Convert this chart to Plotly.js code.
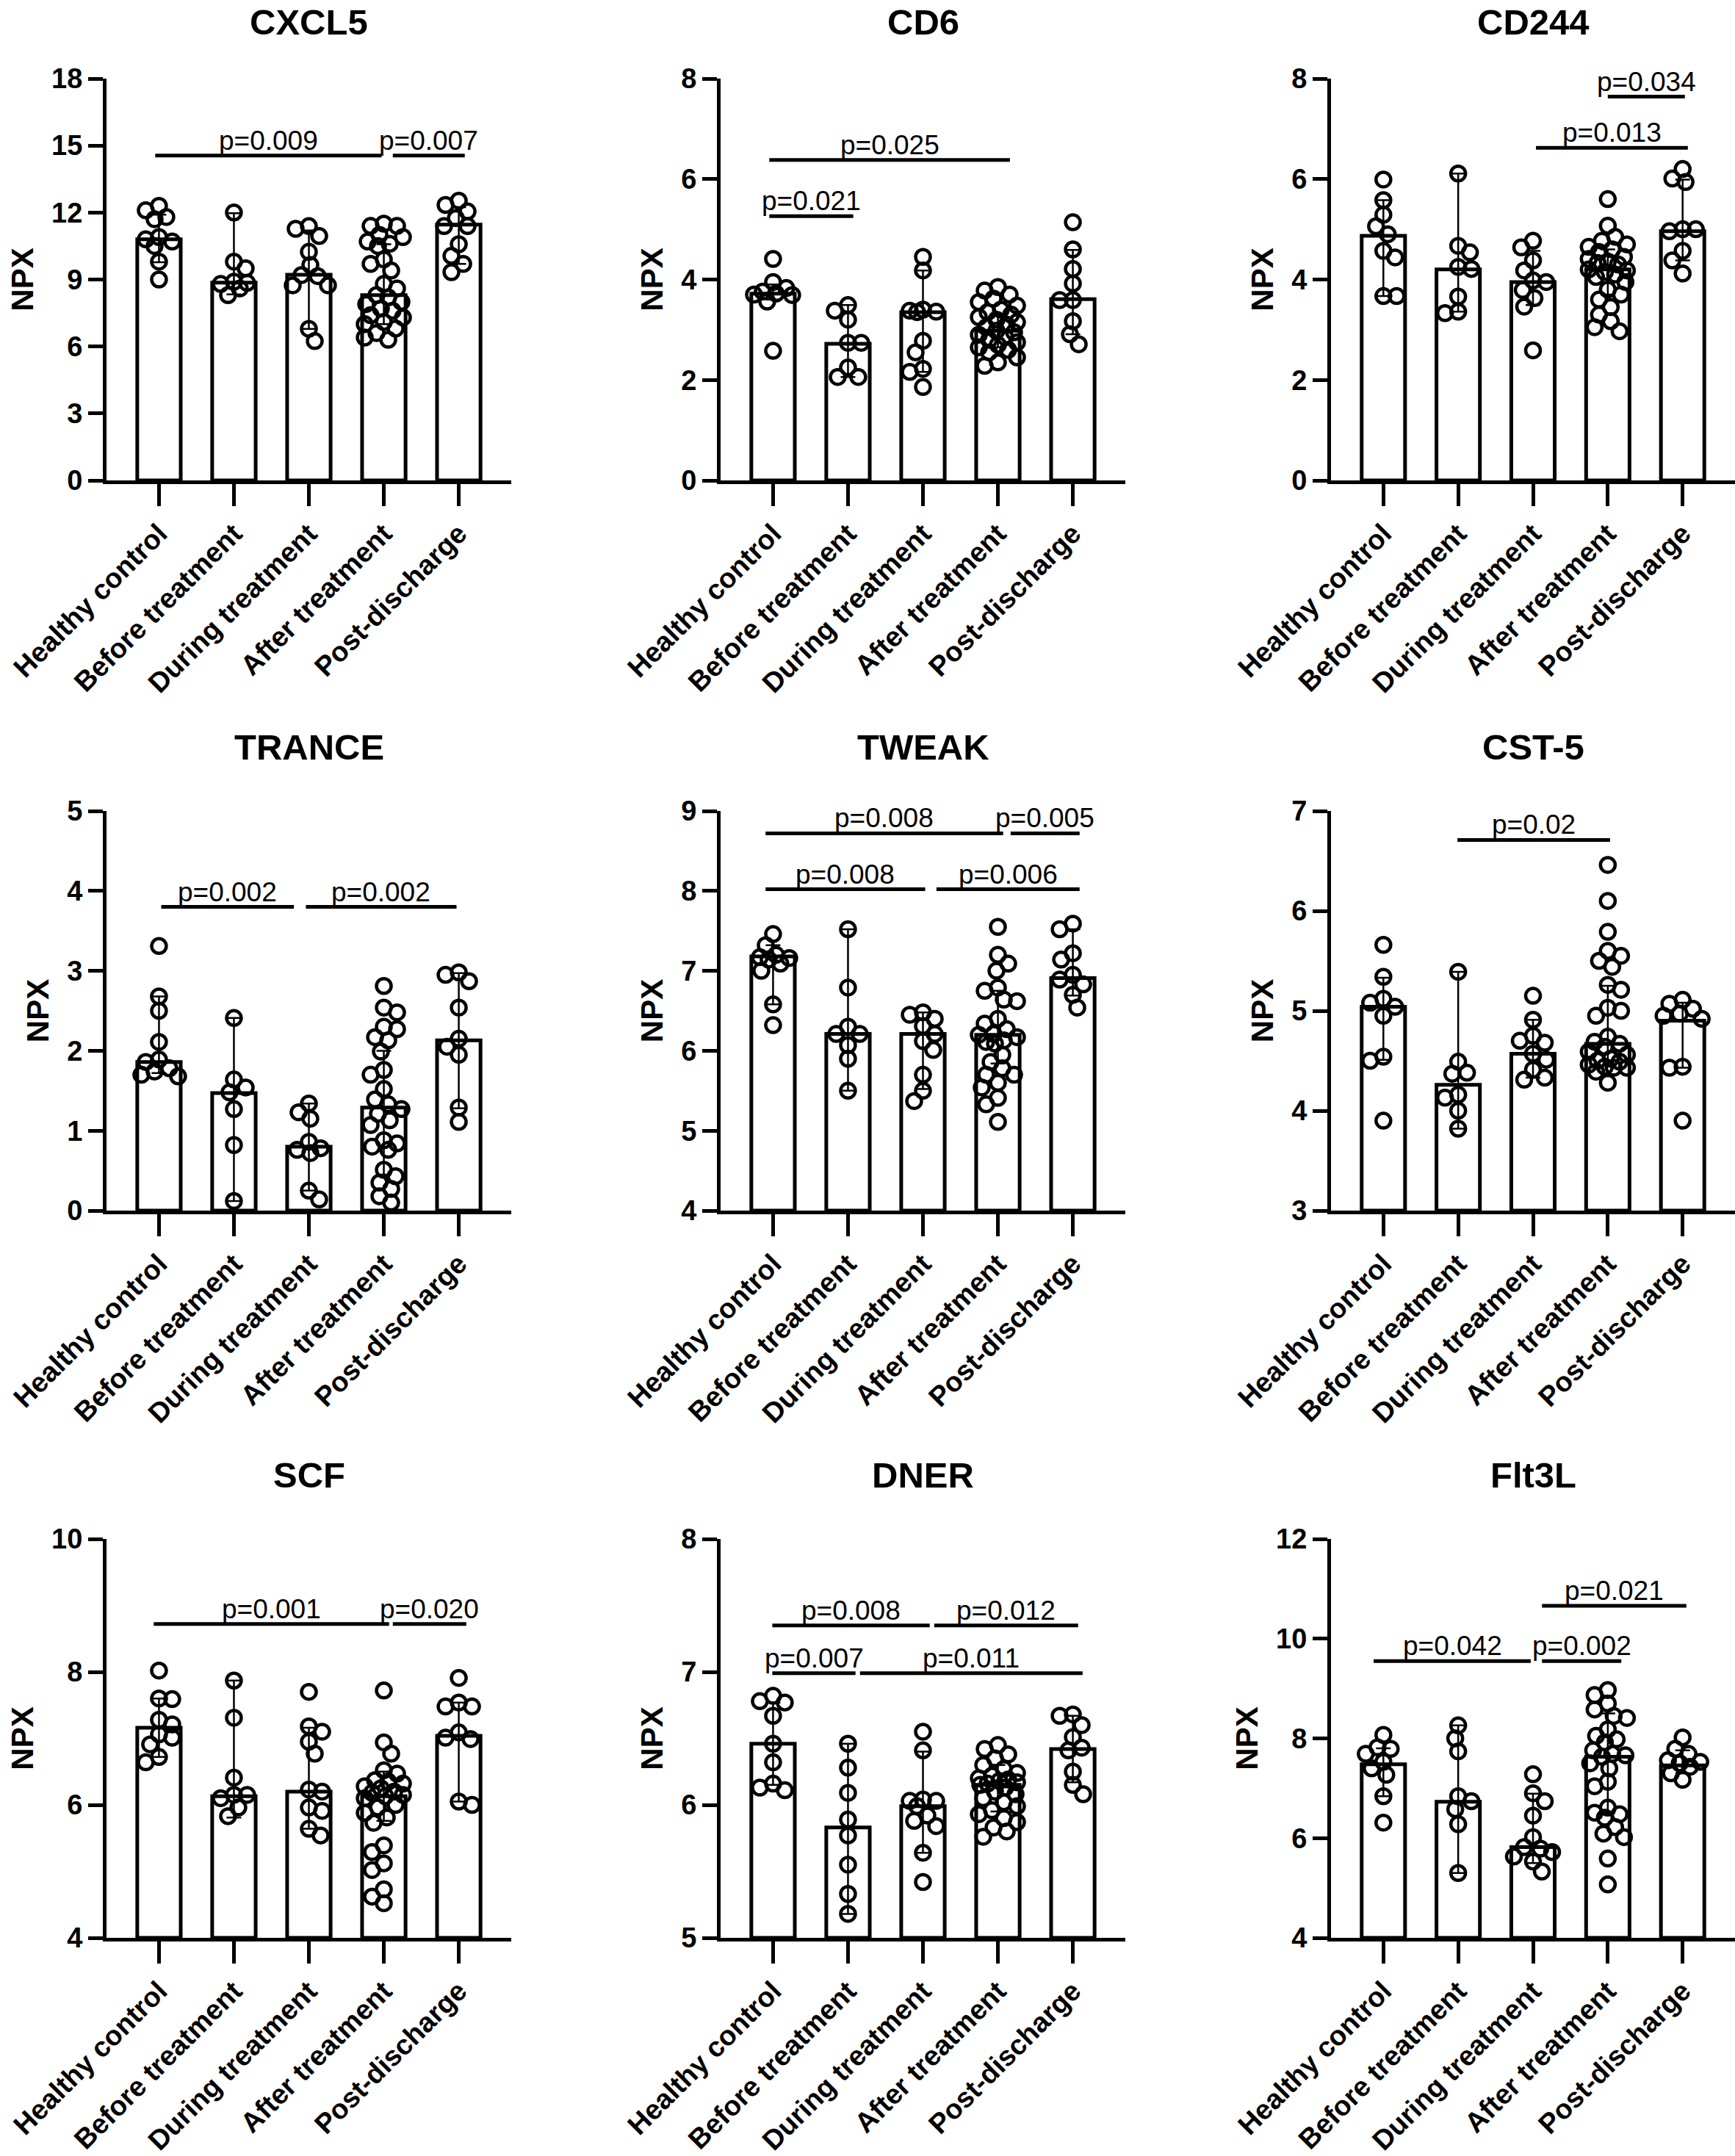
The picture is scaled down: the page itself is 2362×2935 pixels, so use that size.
<!DOCTYPE html>
<html><head><meta charset="utf-8">
<script src="https://cdn.plot.ly/plotly-3.0.1.min.js"></script>
<style>html,body{margin:0;padding:0;background:#fff}#chart{width:2362px;height:2935px}</style>
</head><body><div id="chart"></div>
<script>
// ---------------- DATA ----------------
const groups = ["Healthy control","Before treatment","During treatment","After treatment","Post-discharge"];
const panelNames = ["CXCL5","CD6","CD244","TRANCE","TWEAK","CST-5","SCF","DNER","Flt3L"];
const yRanges = [[0,18],[0,8],[0,8],[0,5],[4,9],[3,7],[4,10],[5,8],[4,12]];
const yTickSteps = [3,2,2,1,1,1,2,1,2];

// CXCL5
const cxcl5Median = [10.8, 8.86, 9.21, 8.3, 11.46];
const cxcl5Upper  = [11.9, 11.97, 11.2, 10.58, 12.24];
const cxcl5Lower  = [9.77, 8.33, 6.79, 7.0, 9.7];
const cxcl5Points = [
  [12.3, 12.1, 11.8, 11.7, 10.9, 10.8, 10.7, 10.5, 9.8, 9.0],
  [12.0, 9.8, 9.5, 8.9, 8.85, 8.8, 8.6, 8.3],
  [11.39, 11.27, 10.95, 10.24, 9.65, 9.2, 9.15, 8.74, 8.74, 6.79, 6.24],
  [11.5,11.4,11.4,11.0,10.9,10.7,10.6,10.5,9.9,9.7,9.4,8.8,8.6,8.3,8.2,8.0,7.9,7.7,7.6,7.4,7.3,7.1,7.0,6.8,6.6,6.4,6.3],
  [12.53, 12.34, 12.05, 11.75, 11.39, 11.39, 10.58, 10.06, 9.7, 9.33]
];
const cxcl5Sig = [[-0.05, 2.97, 14.55, "p=0.009"], [3.12, 4.08, 14.55, "p=0.007"]];

// CD6
const cd6Median = [3.72, 2.72, 3.35, 2.98, 3.61];
const cd6Upper  = [3.9, 3.49, 4.18, 3.3, 4.59];
const cd6Lower  = [3.6, 2.06, 2.16, 2.65, 2.91];
const cd6Points = [
  [4.41, 3.95, 3.83, 3.76, 3.72, 3.70, 3.69, 3.56, 2.58],
  [3.49, 3.38, 3.2, 2.74, 2.74, 2.25, 2.06, 2.06],
  [4.45, 4.18, 3.40, 3.38, 3.36, 3.35, 2.78, 2.55, 2.22, 2.16, 1.86],
  [3.85,3.78,3.7,3.62,3.55,3.48,3.4,3.35,3.3,3.25,3.2,3.15,3.1,3.05,2.98,2.95,2.9,2.85,2.8,2.75,2.7,2.65,2.6,2.55,2.45,2.35,2.28],
  [5.14, 4.6, 4.21, 3.92, 3.59, 3.59, 3.17, 2.91, 2.71]
];
const cd6Sig = [[-0.05, 1.07, 5.26, "p=0.021"], [-0.05, 3.16, 6.38, "p=0.025"]];

// CD244
const cd244Median = [4.87, 4.2, 3.95, 4.2, 4.96];
const cd244Upper  = [5.58, 6.11, 4.57, 4.6, 5.99];
const cd244Lower  = [3.67, 3.36, 3.49, 3.7, 4.38];
const cd244Points = [
  [5.99, 5.58, 5.29, 5.06, 4.9, 4.57, 4.44, 3.67, 3.67],
  [6.11, 4.67, 4.54, 4.25, 4.21, 3.66, 3.36, 3.33],
  [4.77, 4.64, 4.38, 4.18, 3.98, 3.95, 3.79, 3.63, 3.46, 2.59],
  [5.6,5.07,4.85,4.77,4.7,4.65,4.6,4.55,4.45,4.41,4.36,4.33,4.3,4.2,4.18,4.15,4.1,4.05,3.95,3.8,3.7,3.6,3.45,3.3,3.17,3.05,2.97],
  [6.2, 6.01, 5.94, 5.0, 5.0, 4.96, 4.57, 4.38, 4.12]
];
const cd244Sig = [[2.04, 4.07, 6.62, "p=0.013"], [3.0, 4.03, 7.64, "p=0.034"]];

// TRANCE
const tranceMedian = [1.86, 1.47, 0.8, 1.29, 2.13];
const tranceUpper  = [2.68, 2.41, 1.34, 2.0, 2.97];
const tranceLower  = [1.72, 0.12, 0.25, 0.45, 1.28];
const trancePoints = [
  [3.31, 2.68, 2.5, 2.11, 1.89, 1.86, 1.78, 1.74, 1.7, 1.68],
  [2.41, 1.64, 1.54, 1.48, 1.27, 0.82, 0.12],
  [1.34, 1.23, 1.15, 0.86, 0.78, 0.76, 0.72, 0.25, 0.14],
  [2.81,2.54,2.48,2.3,2.27,2.17,2.13,1.99,1.76,1.7,1.52,1.39,1.33,1.27,1.21,1.13,1.07,0.88,0.84,0.8,0.76,0.51,0.43,0.35,0.27,0.18,0.1],
  [2.98, 2.95, 2.87, 2.54, 2.15, 2.05, 1.95, 1.29, 1.11]
];
const tranceSig = [[0.03, 1.8, 3.8, "p=0.002"], [1.96, 3.97, 3.8, "p=0.002"]];

// TWEAK
const tweakMedian = [7.18, 6.21, 6.21, 6.2, 6.91];
const tweakUpper  = [7.32, 7.52, 6.48, 6.75, 7.52];
const tweakLower  = [6.58, 5.5, 5.52, 5.84, 6.69];
const tweakPoints = [
  [7.46, 7.32, 7.2, 7.17, 7.16, 7.14, 7.09, 7.0, 6.58, 6.32],
  [7.52, 6.79, 6.3, 6.21, 6.21, 6.07, 5.9, 5.5],
  [6.48, 6.45, 6.4, 6.31, 6.21, 6.12, 6.01, 5.7, 5.5, 5.37],
  [7.55,7.2,7.09,7.0,6.79,6.75,6.64,6.62,6.4,6.34,6.27,6.21,6.2,6.17,6.13,6.11,6.09,5.95,5.86,5.78,5.7,5.7,5.6,5.54,5.41,5.33,5.11],
  [7.59, 7.52, 7.22, 7.14, 6.95, 6.89, 6.83, 6.7, 6.54]
];
const tweakSig = [[-0.1, 3.07, 8.72, "p=0.008"], [3.17, 4.09, 8.72, "p=0.005"], [-0.1, 2.03, 8.02, "p=0.008"], [2.18, 4.09, 8.02, "p=0.006"]];

// CST-5
const cst5Median = [5.04, 4.26, 4.57, 4.67, 4.9];
const cst5Upper  = [5.33, 5.39, 4.91, 5.25, 5.08];
const cst5Lower  = [4.51, 3.82, 4.33, 4.45, 4.43];
const cst5Points = [
  [5.66, 5.34, 5.12, 5.08, 5.04, 4.95, 4.54, 4.5, 3.9],
  [5.39, 4.49, 4.38, 4.37, 4.16, 4.13, 4.0, 3.82],
  [5.15, 4.91, 4.75, 4.7, 4.68, 4.57, 4.51, 4.41, 4.33, 4.31],
  [6.46,6.1,5.79,5.6,5.55,5.5,5.44,5.26,5.21,5.03,5.0,4.95,4.74,4.69,4.67,4.64,4.59,4.56,4.52,4.5,4.49,4.46,4.44,4.43,4.43,4.39,4.28],
  [5.11, 5.07, 5.02, 4.97, 4.95, 4.92, 4.44, 4.43, 3.9]
];
const cst5Sig = [[0.99, 3.03, 6.71, "p=0.02"]];

// SCF
const scfMedian = [7.16, 6.13, 6.2, 6.13, 7.04];
const scfUpper  = [7.6, 7.87, 7.16, 6.5, 7.54];
const scfLower  = [6.72, 5.81, 5.64, 5.76, 6.05];
const scfPoints = [
  [8.02, 7.6, 7.59, 7.28, 7.21, 7.06, 7.01, 6.91, 6.72, 6.64],
  [7.87, 7.31, 6.41, 6.15, 6.15, 6.1, 5.96, 5.83],
  [7.7, 7.18, 7.1, 6.95, 6.77, 6.23, 6.2, 5.96, 5.91, 5.64, 5.54],
  [7.72,6.94,6.77,6.52,6.47,6.37,6.35,6.32,6.28,6.25,6.2,6.18,6.15,6.13,6.1,6.0,5.96,5.88,5.81,5.73,5.39,5.29,5.12,5.02,4.73,4.62,4.52],
  [7.91, 7.54, 7.48, 7.48, 7.09, 7.01, 6.99, 6.05, 6.0]
];
const scfSig = [[-0.07, 3.07, 8.72, "p=0.001"], [3.12, 4.1, 8.72, "p=0.020"]];

// DNER
const dnerMedian = [6.46, 5.83, 5.99, 6.15, 6.42];
const dnerUpper  = [6.77, 6.46, 6.4, 6.3, 6.67];
const dnerLower  = [6.15, 5.18, 5.64, 5.95, 6.17];
const dnerPoints = [
  [6.82, 6.78, 6.77, 6.67, 6.46, 6.32, 6.16, 6.13, 6.11],
  [6.46, 6.28, 6.09, 5.89, 5.77, 5.55, 5.33, 5.18],
  [6.55, 6.41, 6.04, 6.03, 6.03, 5.99, 5.92, 5.88, 5.84, 5.64, 5.42],
  [6.45,6.42,6.38,6.35,6.3,6.27,6.24,6.22,6.2,6.19,6.18,6.17,6.16,6.15,6.13,6.1,6.08,6.05,6.02,5.99,5.96,5.93,5.9,5.87,5.83,5.8,5.76],
  [6.68, 6.67, 6.6, 6.51, 6.43, 6.41, 6.25, 6.15, 6.08]
];
const dnerSig = [[-0.01, 2.09, 7.35, "p=0.008"], [2.15, 4.07, 7.35, "p=0.012"], [-0.01, 1.1, 6.99, "p=0.007"], [1.16, 4.13, 6.99, "p=0.011"]];

// Flt3L
const flt3lMedian = [7.48, 6.73, 5.82, 7.63, 7.46];
const flt3lUpper  = [7.8, 8.26, 6.89, 8.5, 7.76];
const flt3lLower  = [6.84, 5.3, 5.5, 6.5, 7.3];
const flt3lPoints = [
  [8.07, 7.82, 7.79, 7.69, 7.53, 7.4, 7.27, 6.84, 6.31],
  [8.26, 8.0, 7.74, 6.84, 6.74, 6.58, 6.28, 5.3],
  [7.28, 6.9, 6.74, 6.45, 6.02, 5.82, 5.79, 5.72, 5.63, 5.53, 5.33],
  [8.97,8.87,8.7,8.58,8.45,8.41,8.18,8.05,7.98,7.92,7.76,7.69,7.66,7.63,7.5,7.4,7.13,7.04,6.61,6.51,6.48,6.41,6.22,6.09,6.02,5.59,5.07],
  [8.02, 7.79, 7.69, 7.56, 7.53, 7.5, 7.43, 7.3, 7.17]
];
const flt3lSig = [[-0.13, 1.97, 9.55, "p=0.042"], [2.12, 3.18, 9.55, "p=0.002"], [2.12, 4.05, 10.66, "p=0.021"]];

const medians = [cxcl5Median, cd6Median, cd244Median, tranceMedian, tweakMedian, cst5Median, scfMedian, dnerMedian, flt3lMedian];
const uppers  = [cxcl5Upper, cd6Upper, cd244Upper, tranceUpper, tweakUpper, cst5Upper, scfUpper, dnerUpper, flt3lUpper];
const lowers  = [cxcl5Lower, cd6Lower, cd244Lower, tranceLower, tweakLower, cst5Lower, scfLower, dnerLower, flt3lLower];
const points  = [cxcl5Points, cd6Points, cd244Points, trancePoints, tweakPoints, cst5Points, scfPoints, dnerPoints, flt3lPoints];
const sigs    = [cxcl5Sig, cd6Sig, cd244Sig, tranceSig, tweakSig, cst5Sig, scfSig, dnerSig, flt3lSig];

// ---------------- LAYOUT ----------------
const W = 2362, H = 2935;
const colPx = [[145, 696], [981, 1532], [1812, 2362]];
const rowPx = [[107, 654], [1104, 1648], [2095, 2638]];
const titleGap = [77, 87, 87];
const XR = [-0.7, 4.7];
const FONT = "Arial, 'Liberation Sans', Helvetica, sans-serif";

// deterministic column-scatter (beeswarm) offsets, in pixels -> category units
function swarm(vals, yr, hpx, pxPerCat) {
  const pxPerY = hpx / (yr[1] - yr[0]);
  const d = 18, step = 2, maxK = 13;
  const placed = [];
  const order = vals.map((v, i) => i).sort((a, b) => vals[b] - vals[a]);
  const offs = new Array(vals.length).fill(0);
  let flip = 1;
  for (const i of order) {
    const py = vals[i] * pxPerY;
    let chosen = null, bestScore = -1, bestC = 0;
    for (let k = 0; k <= maxK && chosen === null; k++) {
      const cands = k === 0 ? [0] : [flip * k * step, -flip * k * step];
      for (const c of cands) {
        let minD = Infinity;
        for (const p of placed) minD = Math.min(minD, Math.hypot(p.x - c, p.y - py));
        if (minD >= d) { chosen = c; break; }
        if (minD > bestScore) { bestScore = minD; bestC = c; }
      }
    }
    if (chosen === null) chosen = bestC;
    flip = -flip;
    placed.push({x: chosen, y: py});
    offs[i] = chosen / pxPerCat;
  }
  return offs;
}

const traces = [], shapes = [], annotations = [];
const layout = {
  width: W, height: H, margin: {l: 0, r: 0, t: 0, b: 0},
  paper_bgcolor: "#fff", plot_bgcolor: "rgba(0,0,0,0)",
  showlegend: false, font: {family: FONT, color: "#000"},
  shapes: shapes, annotations: annotations
};

for (let p = 0; p < 9; p++) {
  const n = p + 1;
  const xa = "x" + n, ya = "y" + n;
  const c = p % 3, r = Math.floor(p / 3);
  const yr = yRanges[p];
  const hpx = rowPx[r][1] - rowPx[r][0];
  const pxPerCat = (colPx[c][1] - colPx[c][0]) / (XR[1] - XR[0]);
  const xKey = "xaxis" + (n === 1 ? "" : n), yKey = "yaxis" + (n === 1 ? "" : n);

  layout[xKey] = {
    domain: [colPx[c][0] / W, Math.min(1, colPx[c][1] / W)],
    anchor: ya, range: XR, fixedrange: true,
    tickmode: "array", tickvals: [0, 1, 2, 3, 4], ticktext: groups, tickangle: -45,
    showline: true, linewidth: 5, linecolor: "#000", mirror: false,
    ticks: "outside", ticklen: 30, tickwidth: 5, tickcolor: "#000",
    showgrid: false, zeroline: false,
    tickfont: {family: FONT, size: 38, weight: "bold", color: "#000"}
  };
  layout[yKey] = {
    domain: [1 - rowPx[r][1] / H, 1 - rowPx[r][0] / H],
    anchor: xa, range: yr, fixedrange: true,
    tick0: yr[0], dtick: yTickSteps[p],
    showline: true, linewidth: 5, linecolor: "#000",
    ticks: "outside", ticklen: 20, tickwidth: 5, tickcolor: "#000",
    showgrid: false, zeroline: false,
    tickfont: {family: FONT, size: 38, weight: "bold", color: "#000"},
    title: {text: "NPX", font: {family: FONT, size: 42, weight: "bold", color: "#000"}, standoff: 13}
  };

  // bars (median)
  traces.push({
    type: "bar", xaxis: xa, yaxis: ya,
    x: [0, 1, 2, 3, 4], y: medians[p].map(v => v - yr[0]), base: yr[0],
    width: 0.58,
    marker: {color: "#fff", line: {color: "#000", width: 5}},
    hoverinfo: "skip"
  });

  // points
  const px = [], py = [];
  points[p].forEach((vals, g) => {
    const offs = swarm(vals, yr, hpx, pxPerCat);
    vals.forEach((v, i) => { px.push(g + offs[i]); py.push(v); });
  });
  traces.push({
    type: "scatter", mode: "markers", xaxis: xa, yaxis: ya,
    x: px, y: py, cliponaxis: false,
    marker: {symbol: "circle", size: 20, color: "rgba(0,0,0,0)", line: {color: "#000", width: 4.5}},
    hoverinfo: "skip"
  });

  // error bars (range) drawn on top
  traces.push({
    type: "scatter", mode: "markers", xaxis: xa, yaxis: ya,
    x: [0, 1, 2, 3, 4], y: medians[p],
    marker: {size: 1, color: "rgba(0,0,0,0)"},
    error_y: {
      type: "data", symmetric: false,
      array: uppers[p].map((u, i) => u - medians[p][i]),
      arrayminus: lowers[p].map((l, i) => medians[p][i] - l),
      color: "#000", thickness: 2.5, width: 10
    },
    hoverinfo: "skip"
  });

  // significance bars
  sigs[p].forEach(s => {
    shapes.push({type: "line", xref: xa, yref: ya, x0: s[0], x1: s[1], y0: s[2], y1: s[2],
      line: {color: "#000", width: 5}});
    annotations.push({xref: xa, yref: ya, x: (s[0] + s[1]) / 2, y: s[2], yanchor: "bottom", xanchor: "center",
      text: s[3], showarrow: false, yshift: -1, borderpad: 0,
      font: {family: FONT, size: 37, color: "#000"}});
  });

  // panel title
  annotations.push({xref: xa + " domain", yref: "paper", x: 0.5, y: 1 - (rowPx[r][0] - titleGap[r]) / H,
    xanchor: "center", yanchor: "middle", showarrow: false,
    text: panelNames[p], font: {family: FONT, size: 49, weight: "bold", color: "#000"}});
}

Plotly.newPlot("chart", traces, layout, {staticPlot: true, displayModeBar: false});
</script>
</body></html>
